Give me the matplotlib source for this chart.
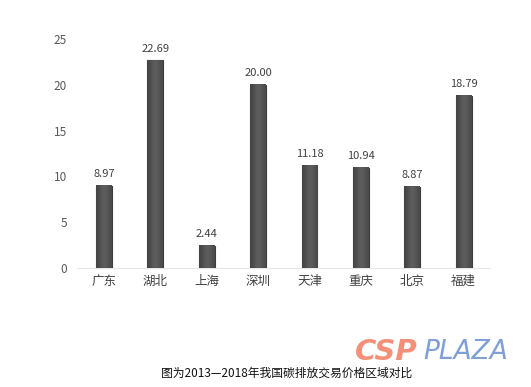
import matplotlib.pyplot as plt
import numpy as np

plt.rcParams['font.family'] = ['Noto Sans CJK SC', 'DejaVu Sans']

regions = ['广东', '湖北', '上海', '深圳', '天津', '重庆', '北京', '福建']
prices = [8.97, 22.69, 2.44, 20.00, 11.18, 10.94, 8.87, 18.79]
yticks = [0, 5, 10, 15, 20, 25]
caption = '图为2013—2018年我国碳排放交易价格区域对比'

fig = plt.figure(figsize=(5.31, 3.87), dpi=100)
ax = fig.add_axes([0.1475, 0.3075, 0.774, 0.5917])

x = np.arange(len(regions))
bw = 0.31
bars = ax.bar(x, prices, width=bw, color='#555555', edgecolor='#3c3c3c', linewidth=0.8, zorder=2)

# subtle horizontal shading inside each bar
grad = np.array([[0.27, 0.33, 0.37, 0.35, 0.29]])
for xi, h in zip(x, prices):
    ax.imshow(grad, cmap='gray', vmin=0, vmax=1, aspect='auto',
              extent=(xi - bw / 2, xi + bw / 2, 0, h), zorder=3, interpolation='bicubic')

for xi, h in zip(x, prices):
    ax.text(xi, h + 0.7, f'{h:.2f}', ha='center', va='bottom', fontsize=8, color='#404040')

ax.set_xlim(-0.5, len(regions) - 0.5)
ax.set_ylim(0, 25)
ax.set_yticks(yticks)
ax.set_yticklabels([str(t) for t in yticks], fontsize=8.5, color='#595959')
ax.set_xticks(x)
ax.set_xticklabels(regions, fontsize=9, color='#404040')
ax.tick_params(length=0, axis='both')
ax.tick_params(axis='y', pad=8)
ax.tick_params(axis='x', pad=5)
for s in ['top', 'right', 'left']:
    ax.spines[s].set_visible(False)
ax.spines['bottom'].set_color('#e6e6e6')
ax.spines['bottom'].set_linewidth(0.8)

fig.text(0.54, 0.035, caption, ha='center', va='center', fontsize=8.5, color='#111111')
fig.text(0.668, 0.09, 'CSP', fontsize=21, fontweight='bold', style='italic',
         color='#f4907a', ha='left', va='center', family='DejaVu Sans')
fig.text(0.797, 0.09, 'PLAZA', fontsize=19, style='italic',
         color='#7f9fd6', ha='left', va='center', family='DejaVu Sans')

plt.savefig('out.png', dpi=100)
